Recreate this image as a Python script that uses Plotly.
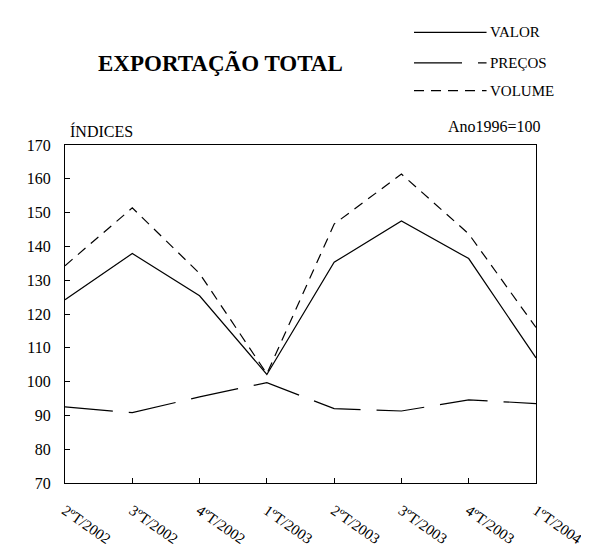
import plotly.graph_objects as go

quarters = ["2ºT/2002", "3ºT/2002", "4ºT/2002", "1ºT/2003",
            "2ºT/2003", "3ºT/2003", "4ºT/2003", "1ºT/2004"]
valor = [124.2, 137.9, 125.4, 102.1, 135.3, 147.5, 136.4, 107.0]
precos = [92.5, 90.8, 95.5, 99.7, 92.0, 91.3, 94.6, 93.5]
volume = [134.3, 151.4, 132.0, 102.3, 146.6, 161.4, 143.7, 116.0]

series_names = ["VALOR", "PREÇOS", "VOLUME"]
series_dash = ["solid", "48px,16px", "10px,7px"]
series_vals = [valor, precos, volume]

font_family = "Liberation Serif, Times New Roman, serif"

fig = go.Figure()
for name, vals, dash in zip(series_names, series_vals, series_dash):
    fig.add_trace(go.Scatter(
        x=quarters, y=vals, mode="lines", name=name,
        line=dict(color="black", width=1.2, dash=dash),
        showlegend=False,
    ))

# manual legend (long line samples as in reference)
leg_x0, leg_x1 = 0.741, 0.895
leg_y = [1.333, 1.243, 1.161]
for name, dash, yy in zip(series_names, series_dash, leg_y):
    fig.add_shape(type="line", xref="paper", yref="paper",
                  x0=leg_x0, x1=leg_x1, y0=yy, y1=yy,
                  line=dict(color="black", width=1.2, dash=dash))
    fig.add_annotation(xref="paper", yref="paper", x=leg_x1 + 0.008, y=yy,
                       text=name, showarrow=False, xanchor="left", yanchor="middle",
                       xshift=-2,
                       font=dict(family=font_family, size=15, color="black"))

fig.add_annotation(xref="paper", yref="paper", x=0.331, y=1.240,
                   text="<b>EXPORTAÇÃO TOTAL</b>", showarrow=False,
                   xanchor="center", yanchor="middle",
                   font=dict(family=font_family, size=23, color="black"))
fig.add_annotation(xref="paper", yref="paper", x=0.0105, y=1.042,
                   text="ÍNDICES", showarrow=False, xanchor="left", yanchor="middle",
                   xshift=-2,
                   font=dict(family=font_family, size=16, color="black"))
fig.add_annotation(xref="paper", yref="paper", x=1.0105, y=1.056,
                   text="Ano1996=100", showarrow=False, xanchor="right", yanchor="middle",
                   xshift=2,
                   font=dict(family=font_family, size=16, color="black"))

fig.update_layout(
    width=589, height=551,
    margin=dict(l=57, r=57, t=137, b=60),
    paper_bgcolor="white", plot_bgcolor="white",
    font=dict(family=font_family, color="black"),
    xaxis=dict(type="category", categoryorder="array", categoryarray=quarters,
               range=[0, 7], showgrid=False, zeroline=False,
               showline=True, linecolor="black", linewidth=1.3, mirror=True,
               ticks="inside", ticklen=5, tickcolor="black",
               ticklabelstandoff=12,
               tickangle=35, tickfont=dict(family=font_family, size=15, color="black")),
    yaxis=dict(range=[70, 170], dtick=10, showgrid=False, zeroline=False,
               showline=True, linecolor="black", linewidth=1.3, mirror=True,
               ticks="inside", ticklen=5, tickcolor="black",
               ticklabelstandoff=10,
               tickfont=dict(family=font_family, size=16, color="black")),
)

fig.write_html("out.html")
